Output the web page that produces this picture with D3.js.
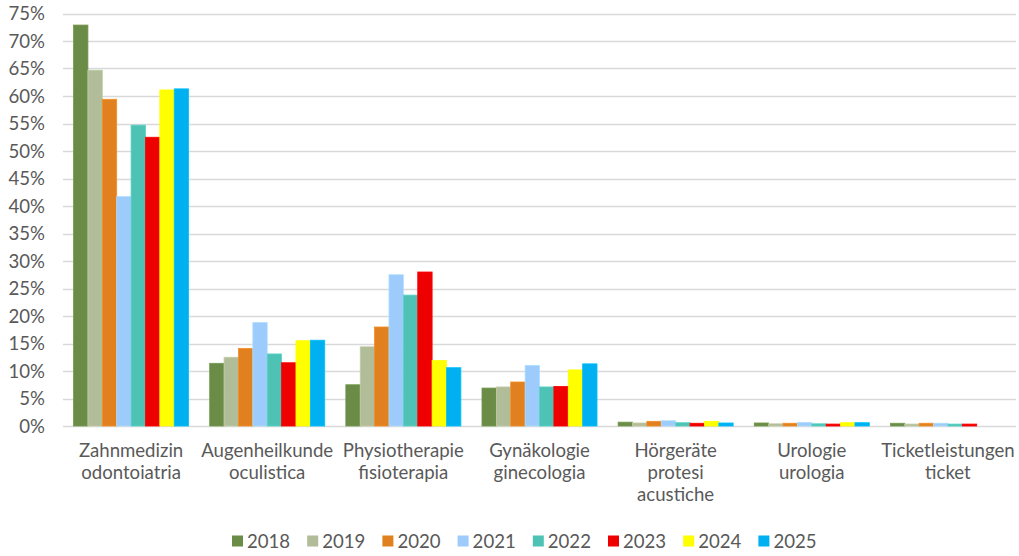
<!DOCTYPE html>
<html>
<head>
<meta charset="utf-8">
<script src="https://cdn.jsdelivr.net/npm/d3@7/dist/d3.min.js"></script>
<style>
  html, body { margin: 0; padding: 0; background: #fff; }
  svg text { font-family: Lato, "Open Sans", sans-serif; fill: #595959; }
</style>
</head>
<body>
<svg id="chart" width="1019" height="556"></svg>
<script>
// ─── Data ───────────────────────────────────────────────────────────────
const categories = [
  ['Zahnmedizin', 'odontoiatria'],
  ['Augenheilkunde', 'oculistica'],
  ['Physiotherapie', 'fisioterapia'],
  ['Gynäkologie', 'ginecologia'],
  ['Hörgeräte', 'protesi', 'acustiche'],
  ['Urologie', 'urologia'],
  ['Ticketleistungen', 'ticket']
];
const years = ['2018', '2019', '2020', '2021', '2022', '2023', '2024', '2025'];
const colors = ['#6A8C46', '#B1BC98', '#E0801F', '#9DCBFC', '#4FC2B6', '#EE0000', '#FFFF00', '#00B0F0'];

// one array per year, values in percent, in category order
const v2018 = [72.9, 11.4, 7.5, 6.9, 0.7, 0.55, 0.5];
const v2019 = [64.7, 12.5, 14.4, 7.1, 0.55, 0.4, 0.35];
const v2020 = [59.4, 14.1, 18.0, 8.0, 0.85, 0.5, 0.5];
const v2021 = [41.7, 18.8, 27.5, 11.0, 0.95, 0.65, 0.5];
const v2022 = [54.7, 13.1, 23.8, 7.1, 0.6, 0.4, 0.35];
const v2023 = [52.5, 11.5, 28.0, 7.2, 0.5, 0.35, 0.35];
const v2024 = [61.1, 15.5, 11.9, 10.2, 0.85, 0.6, 0];
const v2025 = [61.3, 15.6, 10.6, 11.3, 0.55, 0.6, 0];
const series = [v2018, v2019, v2020, v2021, v2022, v2023, v2024, v2025];

const yTicks = d3.range(0, 76, 5);

// ─── Layout ─────────────────────────────────────────────────────────────
const svg = d3.select('#chart');
const plotL = 63, plotR = 1016, plotT = 13.5, plotB = 426;
const FONT = 18.6;

const x0 = d3.scaleBand()
  .domain(d3.range(categories.length))
  .range([plotL, plotR])
  .paddingInner(0.155)
  .paddingOuter(0.0775);

const x1 = d3.scaleBand()
  .domain(years)
  .range([0, x0.bandwidth()]);

const y = d3.scaleLinear().domain([0, 75]).range([plotB, plotT]);

// gridlines
svg.append('g')
  .selectAll('line')
  .data(yTicks)
  .join('line')
    .attr('x1', plotL).attr('x2', plotR)
    .attr('y1', d => Math.round(y(d)) + 0.5)
    .attr('y2', d => Math.round(y(d)) + 0.5)
    .attr('stroke', '#D9D9D9')
    .attr('stroke-width', 1.3);

// y labels
svg.append('g')
  .selectAll('text')
  .data(yTicks)
  .join('text')
    .attr('x', 45)
    .attr('y', d => y(d))
    .attr('dy', '0.35em')
    .attr('text-anchor', 'end')
    .style('font-size', FONT + 'px')
    .text(d => d + '%');

// bars
const groups = svg.append('g')
  .selectAll('g')
  .data(categories)
  .join('g')
    .attr('transform', (d, i) => `translate(${x0(i)},0)`);

groups.selectAll('rect')
  .data((d, i) => years.map((yr, k) => ({ yr, k, v: series[k][i] })))
  .join('rect')
    .attr('x', d => x1(d.yr))
    .attr('width', x1.bandwidth())
    .attr('y', d => y(d.v))
    .attr('height', d => plotB - y(d.v))
    .attr('fill', d => colors[d.k])
    .attr('stroke', d => d3.color(colors[d.k]).brighter(0.25))
    .attr('stroke-width', 0.8);

// x labels
svg.append('g')
  .selectAll('text')
  .data(categories)
  .join('text')
    .attr('x', (d, i) => x0(i) + x0.bandwidth() / 2)
    .attr('y', 450)
    .attr('text-anchor', 'middle')
    .style('font-size', FONT + 'px')
    .each(function (d) {
      const t = d3.select(this);
      d.forEach((line, j) => {
        t.append('tspan')
          .attr('x', t.attr('x'))
          .attr('y', 450 + j * 22.3)
          .attr('dy', '0.35em')
          .text(line);
      });
    });

// legend
const leg = svg.append('g')
  .selectAll('g')
  .data(years)
  .join('g')
    .attr('transform', (d, i) => `translate(${232 + i * 75.2},541)`);

leg.append('rect')
  .attr('x', 0).attr('y', -5.5)
  .attr('width', 11).attr('height', 11)
  .attr('fill', (d, i) => colors[i]);

leg.append('text')
  .attr('x', 15)
  .attr('y', 0)
  .attr('dy', '0.35em')
  .style('font-size', FONT + 'px')
  .text(d => d);
</script>
</body>
</html>
